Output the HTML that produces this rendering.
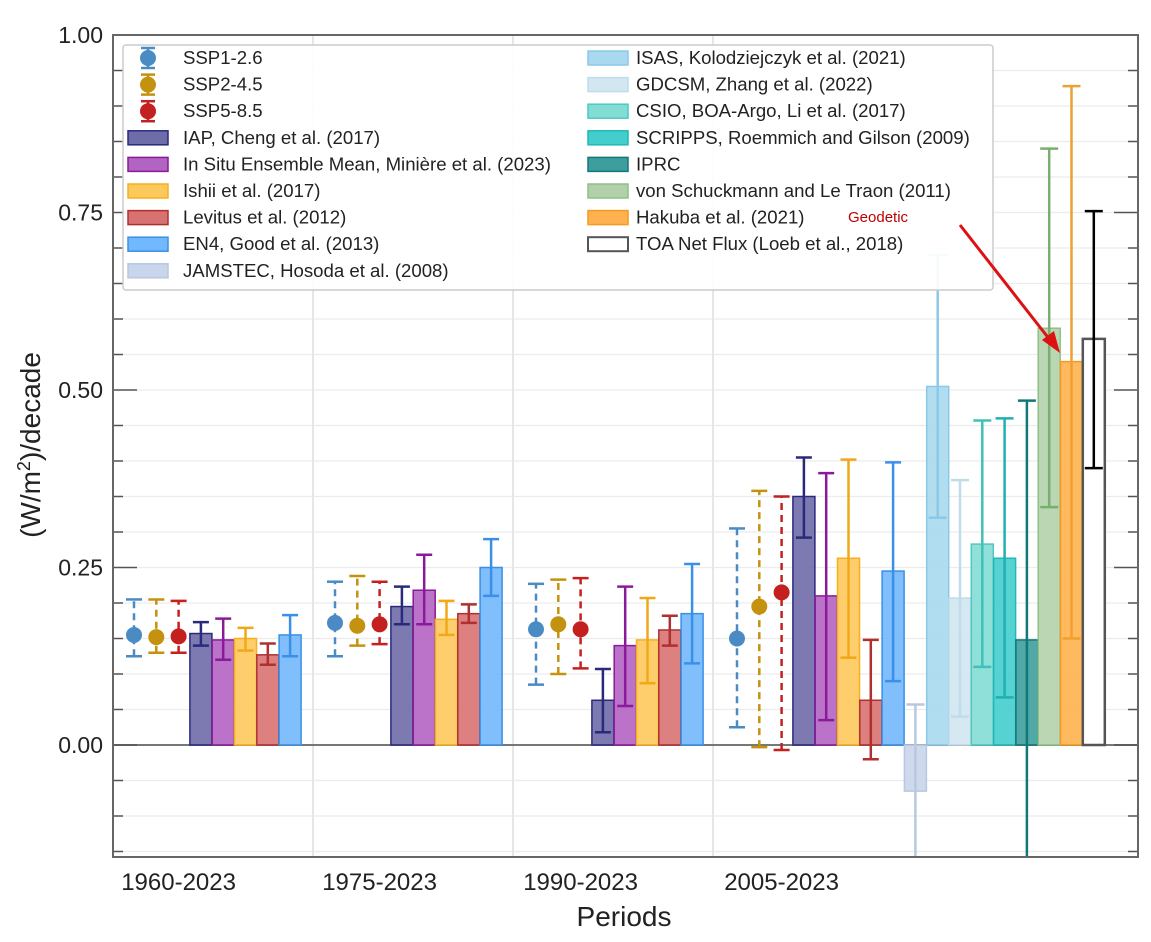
<!DOCTYPE html>
<html><head><meta charset="utf-8"><style>
body{margin:0;background:#fff;}
svg{display:block;font-family:"Liberation Sans",Arial,sans-serif;}
</style></head><body>
<svg id="chart" width="1151" height="942" viewBox="0 0 1151 942">
<g id="grid"></g>
<g id="marks"></g>
<g id="axes"></g>
<g id="legend"></g>
<text x="848" y="222" fill="#c00000" font-size="15">Geodetic</text>
<line x1="960" y1="225" x2="1050" y2="340" stroke="#dd1111" stroke-width="3"/>
<polygon points="1060,353 1042,340 1054,331" fill="#dd1111"/>
</svg>
<script>
const periods=["1960-2023","1975-2023","1990-2023","2005-2023"];
const yTicks=[0,0.25,0.5,0.75,1.0];
const scenNames=["SSP1-2.6","SSP2-4.5","SSP5-8.5"];
const scenColors=["#4a8bc4","#c4920f","#c42020"];
const scenVal=[[0.155,0.172,0.163,0.150],[0.152,0.168,0.170,0.195],[0.153,0.170,0.163,0.215]];
const scenLo=[[0.125,0.125,0.085,0.025],[0.130,0.140,0.100,-0.003],[0.130,0.142,0.108,-0.007]];
const scenHi=[[0.205,0.230,0.227,0.305],[0.205,0.238,0.233,0.358],[0.203,0.230,0.235,0.350]];
const dsNames=["IAP, Cheng et al. (2017)","In Situ Ensemble Mean, Minière et al. (2023)","Ishii et al. (2017)","Levitus et al. (2012)","EN4, Good et al. (2013)"];
const dsFill=["#6f6caa","#b264c2","#fec95c","#d87272","#72b8fc"];
const dsEdge=["#2a2a7a","#8a1a9a","#f5b020","#b03030","#3a90e8"];
const dsVal=[[0.157,0.195,0.063,0.350],[0.148,0.218,0.140,0.210],[0.150,0.177,0.148,0.263],[0.127,0.185,0.162,0.063],[0.155,0.250,0.185,0.245]];
const dsLo=[[0.140,0.170,0.018,0.292],[0.120,0.170,0.055,0.035],[0.133,0.155,0.087,0.123],[0.113,0.172,0.140,-0.020],[0.125,0.210,0.115,0.090]];
const dsHi=[[0.173,0.223,0.107,0.405],[0.178,0.268,0.223,0.383],[0.165,0.203,0.207,0.402],[0.143,0.198,0.182,0.148],[0.183,0.290,0.255,0.398]];
const exNames=["JAMSTEC, Hosoda et al. (2008)","ISAS, Kolodziejczyk et al. (2021)","GDCSM, Zhang et al. (2022)","CSIO, BOA-Argo, Li et al. (2017)","SCRIPPS, Roemmich and Gilson (2009)","IPRC","von Schuckmann and Le Traon (2011)","Hakuba et al. (2021)","TOA Net Flux (Loeb et al., 2018)"];
const exFill=["#c9d5eb","#a9d9ef","#d2e7f1","#82ddd5","#44cdcd","#3e9e9e","#b2d1aa","#ffb24f","#ffffff"];
const exEdge=["#b8c8e0","#8cc8e8","#c0dcea","#50c8c0","#20b8b8","#107878","#90c088","#f59a20","#555555"];
const exErr=["#b8c8e0","#8cc8e8","#c0dcea","#40c0b8","#20b0b0","#107878","#7aae70","#f0a030","#000000"];
const exVal=[-0.065,0.505,0.207,0.283,0.263,0.148,0.587,0.540,0.572];
const exLo=[-0.160,0.320,0.040,0.110,0.067,-0.200,0.335,0.150,0.390];
const exHi=[0.057,0.690,0.373,0.457,0.460,0.485,0.840,0.928,0.752];

const NS="http://www.w3.org/2000/svg";
const L=113,R=1138,T=35,B=857,Y0=745,PXU=710;
const y=v=>Y0-v*PXU;
const x=(g,s)=>134+g*201+s*22.3;
function mk(tag,attrs,parent){const e=document.createElementNS(NS,tag);for(const k in attrs)e.setAttribute(k,attrs[k]);parent.appendChild(e);return e;}
const grid=document.getElementById('grid'),marks=document.getElementById('marks'),axes=document.getElementById('axes'),leg=document.getElementById('legend');
for(let k=-3;k<=20;k++){const v=k*0.05;const py=y(v);if(py<T||py>B)continue;
 const ln=mk('line',{x1:L,x2:R,y1:py,y2:py,stroke:'#ececec','stroke-width':1.2},grid);
 
 
 const major=Math.abs(v/0.25-Math.round(v/0.25))<1e-6;
 const tl=major?24:10;
 const t1=mk('line',{x1:L,x2:L+tl,y1:py,y2:py,stroke:'#555','stroke-width':1.5},axes);
 
 
 const t2=mk('line',{x1:R-tl,x2:R,y1:py,y2:py,stroke:'#555','stroke-width':1.5},axes);
 
 
}
for(let g=1;g<4;g++){const px=113+g*200;const vl=mk('line',{x1:px,x2:px,y1:T,y2:B,stroke:'#e6e6e6','stroke-width':2},grid);
 
 }
const z=mk('line',{x1:L,x2:R,y1:Y0,y2:Y0,stroke:'#777','stroke-width':2},grid);


function errbar(px,lo,hi,col,w,dash,name){
 const g=mk('g',{},marks);
 
 
 const a={stroke:col,'stroke-width':2.5};if(dash)a['stroke-dasharray']='7,5';
 const yl=Math.min(y(lo),B),yh=Math.max(y(hi),T);
 mk('line',Object.assign({x1:px,x2:px,y1:yl,y2:yh},a),g);
 if(y(lo)<=B)mk('line',{x1:px-w/2,x2:px+w/2,y1:y(lo),y2:y(lo),stroke:col,'stroke-width':2.5},g);
 mk('line',{x1:px-w/2,x2:px+w/2,y1:y(hi),y2:y(hi),stroke:col,'stroke-width':2.5},g);
}
function bar(px,v,fill,edge,name){
 const top=Math.min(y(v),Y0),h=Math.abs(y(v)-Y0);
 const r=mk('rect',{x:px-11,y:top,width:22,height:h,fill:fill,'fill-opacity':fill=='#ffffff'?1:0.9,stroke:edge,'stroke-width':fill=='#ffffff'?2.5:1.5},marks);
 
 
}
for(let g=0;g<4;g++){
 for(let d=0;d<5;d++){bar(x(g,3+d),dsVal[d][g],dsFill[d],dsEdge[d],'bar-'+d+'-'+g);
  errbar(x(g,3+d),dsLo[d][g],dsHi[d][g],dsEdge[d]=='#f5b020'?'#f0a818':dsEdge[d],16,false,'errorbar-'+d+'-'+g);}
 for(let s=0;s<3;s++){errbar(x(g,s),scenLo[s][g],scenHi[s][g],scenColors[s],16,true,'scenario-errorbar');
  const c=mk('circle',{cx:x(g,s),cy:y(scenVal[s][g]),r:8,fill:scenColors[s]},marks);
  
  }
}
for(let i=0;i<exVal.length;i++){bar(x(3,8+i),exVal[i],exFill[i],exEdge[i],'bar-extra-'+i);
 errbar(x(3,8+i),exLo[i],exHi[i],exErr[i],18,false,'errorbar-extra-'+i);}
const fr=mk('rect',{x:L,y:T,width:R-L,height:B-T,fill:'none',stroke:'#666','stroke-width':2},axes);


yTicks.forEach(v=>{const t=mk('text',{x:103,y:y(v)+8,'text-anchor':'end','font-size':23,fill:'#222'},axes);t.textContent=v.toFixed(2);
 
 });
periods.forEach((p,g)=>{const t=mk('text',{x:x(g,2),y:890,'text-anchor':'middle','font-size':24,fill:'#222'},axes);t.textContent=p;
 
 });
const xt=mk('text',{x:624,y:926,'text-anchor':'middle','font-size':28,fill:'#222'},axes);xt.textContent='Periods';


const yt=mk('text',{transform:'translate(40,445) rotate(-90)','text-anchor':'middle','font-size':28,fill:'#222'},axes);
yt.innerHTML='(W/m<tspan dy="-10" font-size="18">2</tspan><tspan dy="10">)/decade</tspan>';


const lb=mk('rect',{x:123,y:45,width:870,height:245,fill:'#fff','fill-opacity':0.92,stroke:'#ccc','stroke-width':1.5,rx:3},leg);


function legText(tx,ty,s){const t=mk('text',{x:tx,y:ty+6,'font-size':18.6,fill:'#222'},leg);t.textContent=s;
 
 }
function legPatch(px,py,fill,edge){const r=mk('rect',{x:px,y:py-7,width:40,height:14,fill:fill,stroke:edge,'stroke-width':fill=='#ffffff'?2:1.5},leg);
 
 }
const rowY=i=>58+i*26.6;
scenNames.forEach((n,i)=>{const py=rowY(i),px=148;
 mk('line',{x1:px,x2:px,y1:py-10,y2:py+10,stroke:scenColors[i],'stroke-width':2.5},leg);
 mk('line',{x1:px-7,x2:px+7,y1:py-10,y2:py-10,stroke:scenColors[i],'stroke-width':2.5},leg);
 mk('line',{x1:px-7,x2:px+7,y1:py+10,y2:py+10,stroke:scenColors[i],'stroke-width':2.5},leg);
 const c=mk('circle',{cx:px,cy:py,r:8,fill:scenColors[i]},leg);
 
 
 legText(183,py,n);});
dsNames.forEach((n,i)=>{legPatch(128,rowY(3+i),dsFill[i],dsEdge[i]);legText(183,rowY(3+i),n);});
legPatch(128,rowY(8),exFill[0],exEdge[0]);legText(183,rowY(8),exNames[0]);
for(let i=1;i<exNames.length;i++){legPatch(588,rowY(i-1),exFill[i],exEdge[i]);legText(636,rowY(i-1),exNames[i]);}
</script>
</body></html>
